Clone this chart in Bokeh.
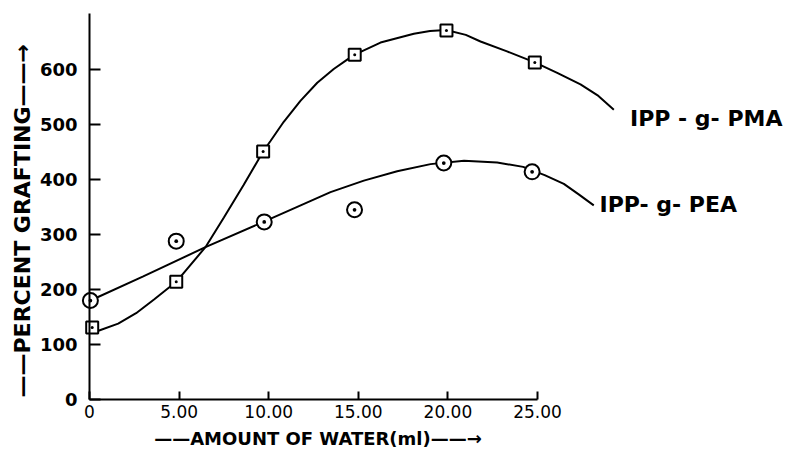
import math
from bokeh.plotting import figure
from bokeh.models import Range1d, FixedTicker, Label
from bokeh.embed import file_html
from bokeh.resources import INLINE

# ---- data ----
x_ticks = [0, 5, 10, 15, 20, 25]
x_tick_labels = ["0", "5.00", "10.00", "15.00", "20.00", "25.00"]
y_ticks = [0, 100, 200, 300, 400, 500, 600]
y_tick_labels = ["0", "100", "200", "300", "400", "500", "600"]

# IPP-g-PMA measured points (squares)
pma_x = [0.15, 4.84, 9.69, 14.8, 19.92, 24.85]
pma_y = [131, 214, 451, 627, 671, 613]
# IPP-g-PEA measured points (circles)
pea_x = [0.05, 4.84, 9.75, 14.79, 19.77, 24.7]
pea_y = [180, 288, 323, 345, 430, 414]

# hand-drawn smooth curves
pma_curve_x = [0.15, 0.5, 1.6, 2.6, 3.6, 4.84, 6.47, 7.5, 8.6, 9.69, 10.1, 10.84, 11.77,
               12.71, 13.63, 14.38, 14.8, 16.24, 18.1, 19.0, 19.9, 21.0, 21.82, 23.3,
               24.85, 26.1, 27.4, 28.4, 29.26]
pma_curve_y = [131, 125, 138, 157, 182, 214, 277, 331, 390, 451, 470, 505, 543,
               576, 601, 618, 627, 649, 665, 670, 672, 663, 651, 633,
               613, 594, 573, 552, 527]
pea_curve_x = [0.05, 3.0, 6.47, 9.64, 11.5, 13.45, 15.31, 17.17, 19.03, 20.9, 22.75,
               24.2, 25.4, 26.47, 27.3, 28.14]
pea_curve_y = [180, 224, 277, 322, 349, 377, 398, 415, 428, 434, 431,
               423, 408, 392, 373, 353]

FONT = "DejaVu Sans"

p = figure(width=785, height=451,
           x_range=Range1d(-4.967, 38.84), y_range=Range1d(-94.5, 725.5),
           output_backend="svg", toolbar_location=None,
           min_border_left=0, min_border_right=0, min_border_top=0, min_border_bottom=0)
p.outline_line_color = None
p.xgrid.visible = False
p.ygrid.visible = False
p.background_fill_color = "white"
p.border_fill_color = "white"

# axes (crossing at the origin)
xa = p.xaxis[0]
xa.fixed_location = 0
xa.bounds = (0, 25)
xa.ticker = FixedTicker(ticks=x_ticks)
xa.major_label_overrides = {t: l for t, l in zip(x_ticks, x_tick_labels)}
xa.major_tick_in = 8
xa.major_tick_out = 0
xa.minor_tick_line_color = None
xa.axis_line_width = 2
xa.major_tick_line_width = 2
xa.major_label_text_font = FONT
xa.major_label_text_font_size = "17px"
xa.major_label_text_color = "black"
xa.major_label_standoff = 5
xa.axis_line_color = "black"
xa.major_tick_line_color = "black"

ya = p.yaxis[0]
ya.fixed_location = 0
ya.bounds = (0, 702)
ya.ticker = FixedTicker(ticks=y_ticks)
ya.major_label_overrides = {t: l for t, l in zip(y_ticks, y_tick_labels)}
ya.major_tick_in = 11
ya.major_tick_out = 0
ya.minor_tick_line_color = None
ya.axis_line_width = 2
ya.major_tick_line_width = 2
ya.major_label_text_font = FONT
ya.major_label_text_font_size = "18px"
ya.major_label_text_font_style = "bold"
ya.major_label_text_color = "black"
ya.major_label_standoff = 12
ya.axis_line_color = "black"
ya.major_tick_line_color = "black"

# curves
p.line(pma_curve_x, pma_curve_y, line_color="black", line_width=2)
p.line(pea_curve_x, pea_curve_y, line_color="black", line_width=2)

# markers
p.scatter(pma_x, pma_y, marker="square_dot", size=12, fill_color="white",
          line_color="black", line_width=2)
p.scatter(pea_x, pea_y, marker="circle_dot", size=15, fill_color="white",
          line_color="black", line_width=2)

# series labels
p.add_layout(Label(x=38.67, y=511, text="IPP - g- PMA", text_font=FONT,
                   text_font_size="22px", text_font_style="bold",
                   text_baseline="middle", text_align="right", text_color="black"))
p.add_layout(Label(x=28.46, y=354, text="IPP- g- PEA", text_font=FONT,
                   text_font_size="22px", text_font_style="bold",
                   text_baseline="middle", text_align="left", text_color="black"))

# axis titles
p.add_layout(Label(x=-3.74, y=325, text="——PERCENT GRAFTING——→", angle=math.pi / 2,
                   text_font=FONT, text_font_size="22px", text_font_style="bold",
                   text_baseline="middle", text_align="center", text_color="black"))
p.add_layout(Label(x=12.75, y=-71, text="——AMOUNT OF WATER(ml)——→",
                   text_font=FONT, text_font_size="18px", text_font_style="bold",
                   text_baseline="middle", text_align="center", text_color="black"))

open("out.html", "w").write(file_html(p, INLINE))
